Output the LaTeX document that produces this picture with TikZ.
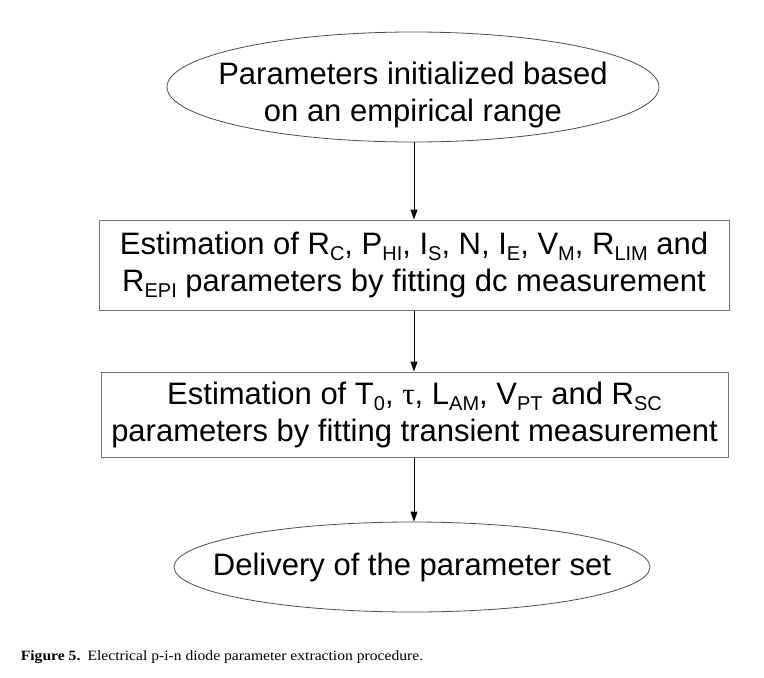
\documentclass[tikz,border=0pt]{standalone}
\usepackage{fontspec}
\setmainfont{Liberation Sans}
\newfontfamily\greekfont{Liberation Serif}
\newfontfamily\capfont{Liberation Serif}[FakeStretch=1.1]
\usetikzlibrary{shapes.geometric,arrows.meta}
\newcommand\idx[1]{\raisebox{-0.2em}{\fontsize{20}{20}\selectfont #1}}

\begin{document}
\begin{tikzpicture}[x=1pt,y=-1pt,->,>={Triangle[length=10pt,width=7pt]},line width=1pt]
  \tikzstyle{terminal}=[ellipse,draw=black!70,line width=0.8pt,align=center,
    font=\fontsize{31}{37}\selectfont,inner xsep=-80pt,inner ysep=-30pt]
  \tikzstyle{stepbox}=[rectangle,draw=black!55,line width=1pt,align=center,
    font=\fontsize{31}{37}\selectfont,inner sep=0pt]
  \useasboundingbox (0,0) rectangle (764,678);
  \node[terminal,minimum width=492pt,minimum height=110pt] (init) at (413,87)
    {\rule{0pt}{38pt}Parameters initialized based\\on an empirical range};
  \node[stepbox,minimum width=630pt,minimum height=90pt] (dcfit) at (414,265)
    {Estimation of R\idx{C}, P\idx{HI}, I\idx{S}, N, I\idx{E}, V\idx{M}, R\idx{LIM} and\\
     R\idx{EPI} parameters by fitting dc measurement};
  \node[stepbox,minimum width=627pt,minimum height=85pt] (trfit) at (414.5,414.5)
    {Estimation of T\idx{0}, {\greekfont τ}, L\idx{AM}, V\idx{PT} and R\idx{SC}\\
     parameters by fitting transient measurement};
  \node[terminal,minimum width=476pt,minimum height=90pt] (done) at (412,567)
    {Delivery of the parameter set};
  \node[anchor=west,font=\capfont\fontsize{14.2}{16}\selectfont] (cap) at (17,657)
    {\textbf{Figure 5.}\enspace Electrical p-i-n diode parameter extraction procedure.};
  \draw (init.south -| dcfit.north) -- (dcfit.north);
  \draw (dcfit.south) -- (dcfit.south |- trfit.north);
  \draw (trfit.south -| dcfit.south) -- (done.north -| dcfit.south);
\end{tikzpicture}
\end{document}
